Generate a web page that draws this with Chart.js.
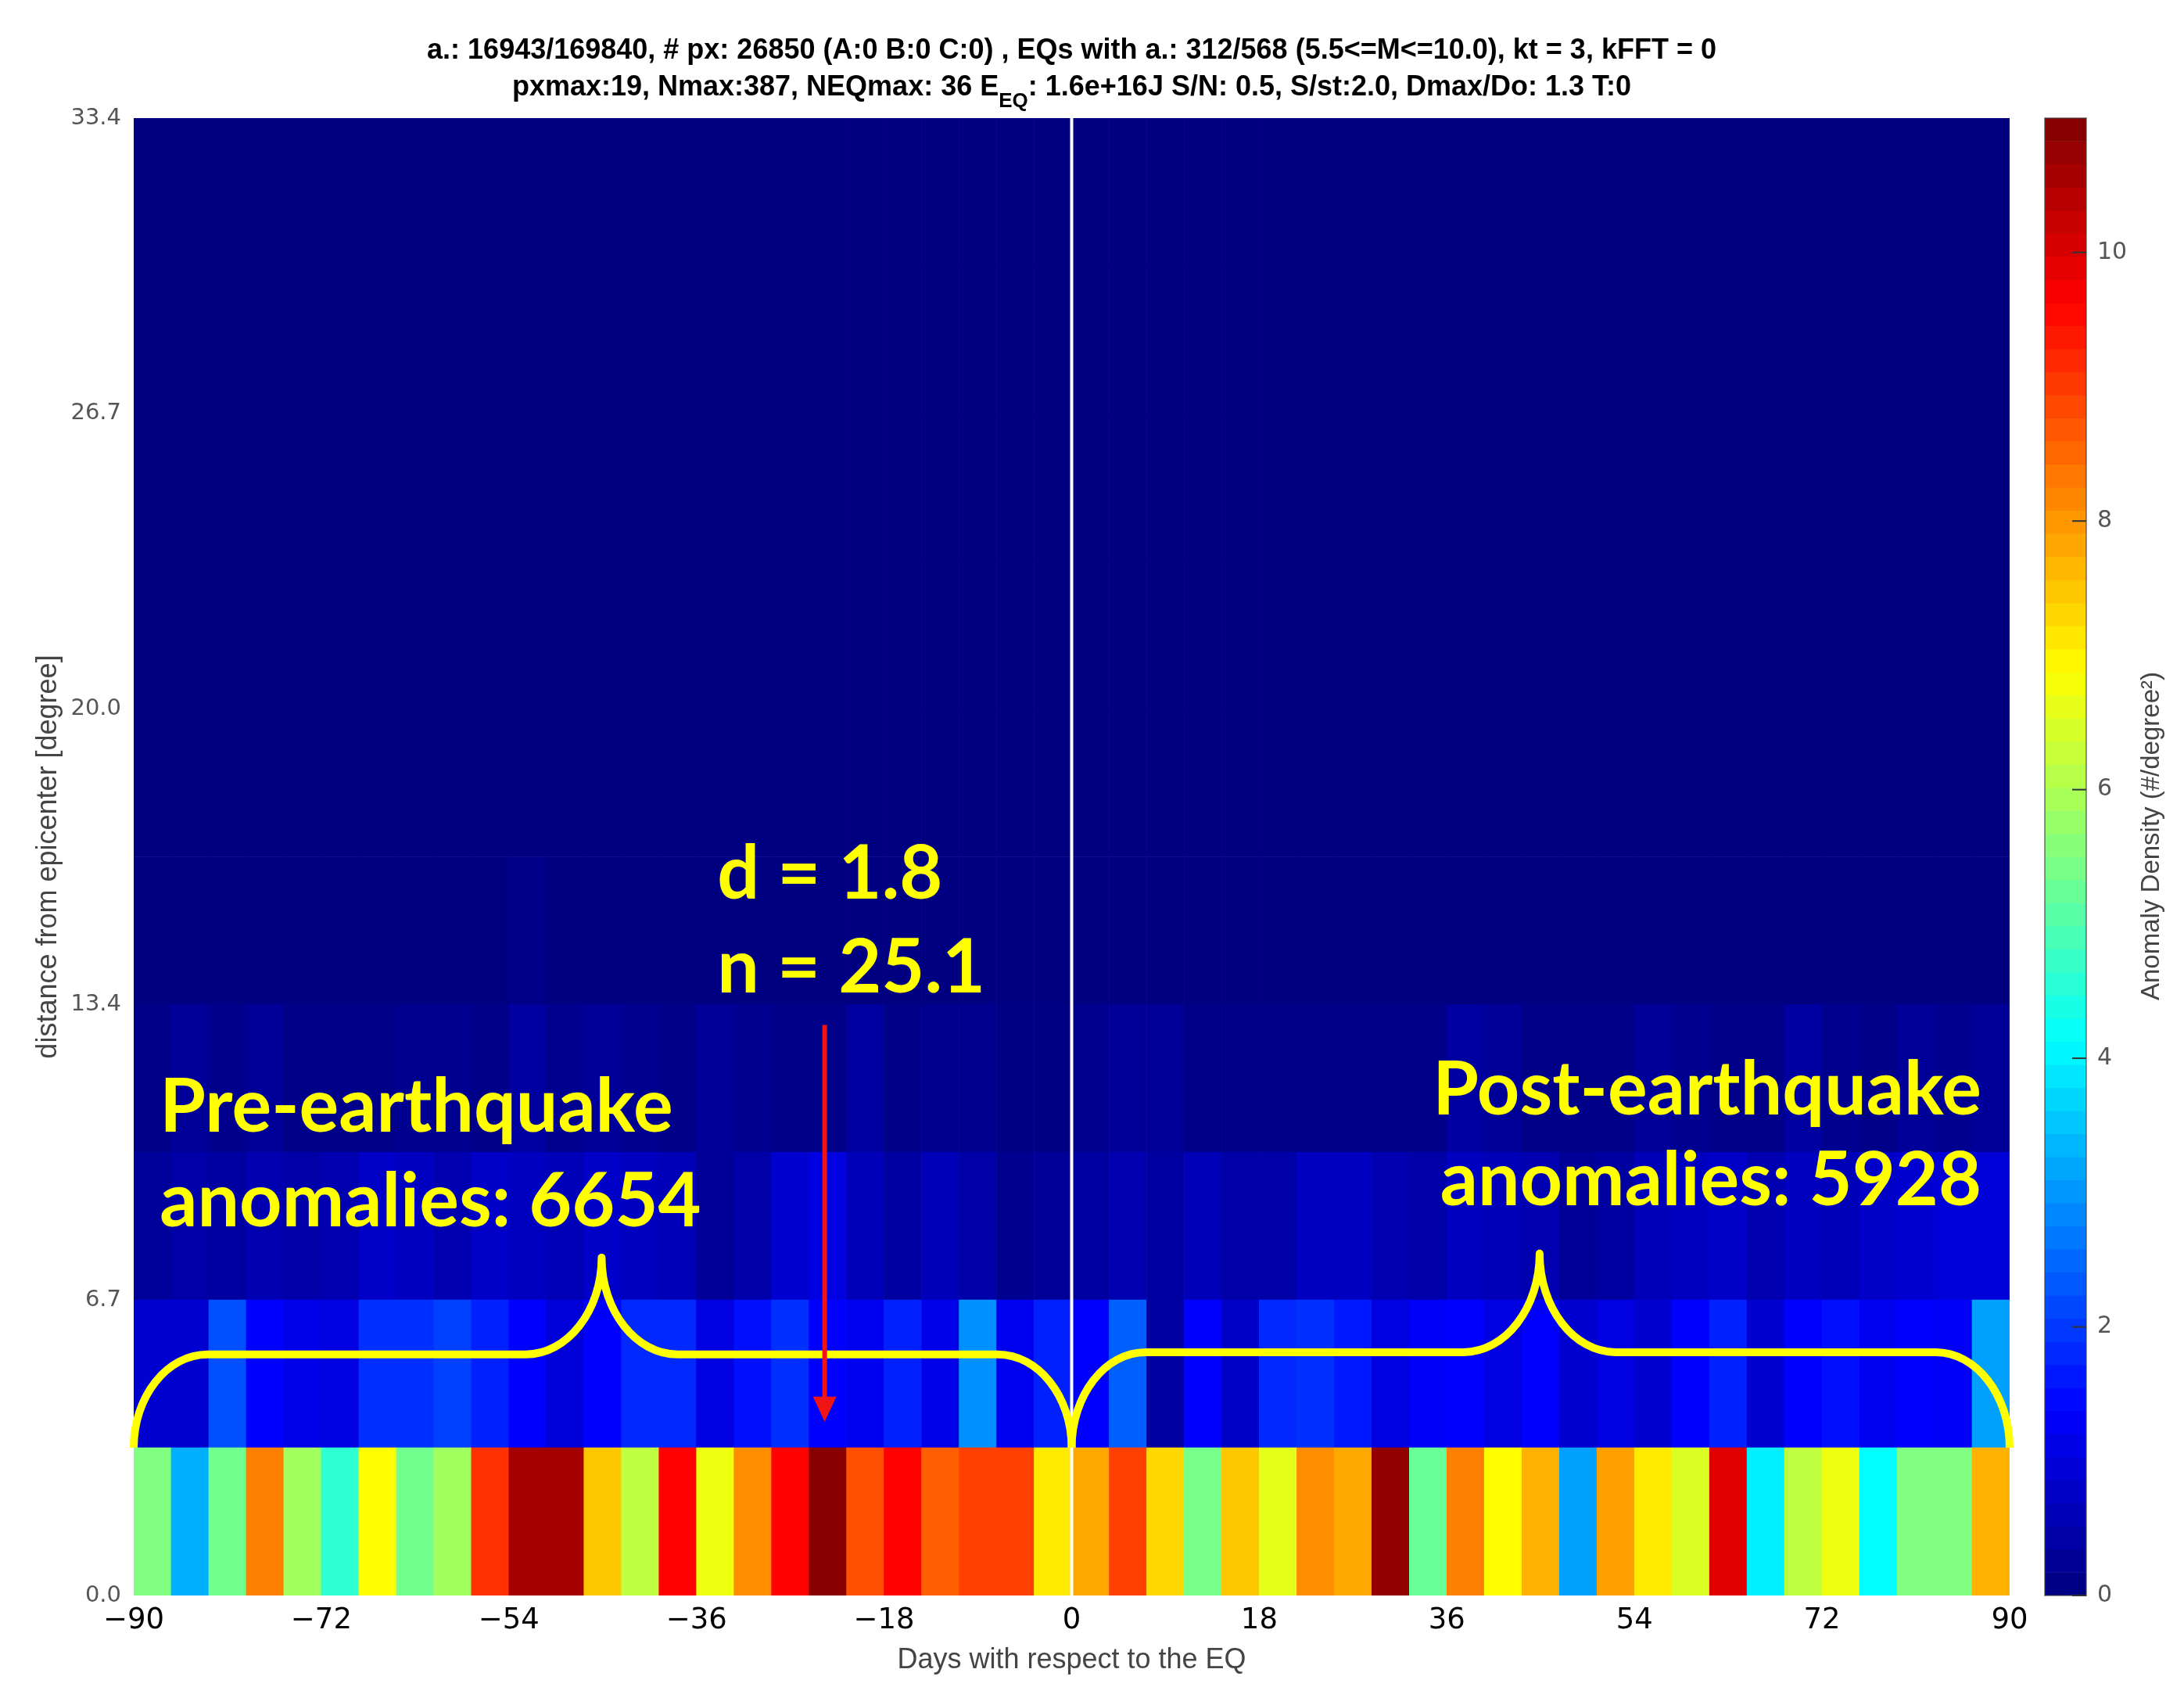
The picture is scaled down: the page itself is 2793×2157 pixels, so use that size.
<!DOCTYPE html>
<html>
<head>
<meta charset="utf-8">
<script src="https://cdn.jsdelivr.net/npm/chart.js@4.4.1/dist/chart.umd.min.js"></script>
<style>
  body { margin: 0; background: #fff; }
  #wrap { position: relative; width: 2793px; height: 2157px; }
  #heat { position: absolute; left: 0; top: 0; }
  #cbar { position: absolute; left: 2560px; top: 0; }
</style>
</head>
<body>
<div id="wrap">
  <canvas id="heat" width="2793" height="2157"></canvas>
  <canvas id="cbar" width="233" height="2157"></canvas>
</div>
<script>
// day bins (centres, 3.6 days wide) and distance bin edges in degree
const dayBins = [-88.2, -84.6, -81.0, -77.4, -73.8, -70.2, -66.6, -63.0, -59.4, -55.8,
  -52.2, -48.6, -45.0, -41.4, -37.8, -34.2, -30.6, -27.0, -23.4, -19.8,
  -16.2, -12.6, -9.0, -5.4, -1.8, 1.8, 5.4, 9.0, 12.6, 16.2,
  19.8, 23.4, 27.0, 30.6, 34.2, 37.8, 41.4, 45.0, 48.6, 52.2,
  55.8, 59.4, 63.0, 66.6, 70.2, 73.8, 77.4, 81.0, 84.6, 88.2];
const distEdges = [0, 3.34, 6.68, 10.02, 13.36, 16.7, 20.04, 23.38, 26.72, 30.06, 33.4];

// anomaly density per row, bottom row first
const density0 = [5.5, 3.27, 5.34, 8.25, 5.86, 4.6, 6.9, 5.34, 5.86, 9.1,
  10.6, 10.6, 7.48, 6.19, 9.6, 6.7, 8.1, 9.6, 10.9, 8.77,
  9.6, 8.6, 8.94, 8.94, 7.1, 7.8, 8.94, 7.3, 5.4, 7.48,
  6.6, 8.1, 7.8, 10.8, 5.25, 8.25, 6.9, 7.7, 3.1, 7.9,
  7.1, 6.5, 9.95, 3.96, 6.19, 6.7, 4.1, 5.5, 5.5, 7.7];
const density1 = [0.87, 0.87, 2.24, 1.375, 1.13, 1.04, 1.89, 1.89, 2.06, 1.72,
  1.375, 0.95, 1.375, 1.81, 1.81, 1.04, 1.55, 1.89, 1.375, 1.21,
  1.72, 1.13, 2.93, 1.21, 1.72, 1.375, 2.41, 0.35, 1.375, 0.78,
  1.81, 1.89, 1.63, 1.04, 1.30, 1.375, 1.04, 1.375, 0.87, 1.04,
  0.87, 1.375, 1.72, 0.87, 1.375, 1.55, 1.21, 1.375, 1.30, 3.1];
const density2 = [0.29, 0.44, 0.35, 0.52, 0.44, 0.52, 0.78, 0.70, 0.52, 0.78,
  0.70, 0.61, 0.78, 0.70, 0.61, 0.26, 0.44, 0.87, 1.04, 0.61,
  0.35, 0.61, 0.44, 0.18, 0.26, 0.35, 0.52, 0.35, 0.61, 0.44,
  0.44, 0.70, 0.70, 0.52, 0.44, 0.70, 0.61, 0.52, 0.26, 0.35,
  0.61, 0.70, 0.78, 0.52, 0.70, 0.61, 0.78, 0.87, 0.95, 0.95];
const density3 = [0.09, 0.26, 0.13, 0.26, 0.09, 0.09, 0.09, 0.18, 0.18, 0.09,
  0.35, 0.18, 0.26, 0.18, 0.09, 0.26, 0.18, 0.09, 0.09, 0.35,
  0.09, 0.18, 0.18, 0.06, 0.06, 0.18, 0.26, 0.26, 0.09, 0.09,
  0.09, 0.09, 0.09, 0.09, 0.09, 0.35, 0.26, 0.09, 0.09, 0.09,
  0.26, 0.18, 0.09, 0.09, 0.35, 0.18, 0.09, 0.26, 0.18, 0.26];
const density4 = [0, 0, 0, 0, 0, 0, 0, 0, 0, 0,
  0.1, 0, 0, 0, 0, 0, 0, 0, 0, 0,
  0, 0, 0, 0, 0, 0, 0, 0, 0, 0,
  0, 0, 0, 0, 0, 0, 0, 0, 0, 0,
  0, 0, 0, 0, 0, 0, 0, 0, 0, 0];
const densityUpper = [0, 0, 0, 0, 0, 0, 0, 0, 0, 0,
  0, 0, 0, 0, 0, 0, 0, 0, 0, 0,
  0, 0, 0, 0, 0, 0, 0, 0, 0, 0,
  0, 0, 0, 0, 0, 0, 0, 0, 0, 0,
  0, 0, 0, 0, 0, 0, 0, 0, 0, 0];

const xTickValues = [-90, -72, -54, -36, -18, 0, 18, 36, 54, 72, 90];
const yTickValues = [0, 6.68, 13.36, 20.04, 26.72, 33.4];
const yTickLabels = ['0.0', '6.7', '13.4', '20.0', '26.7', '33.4'];
const cbarTicks = [0, 2, 4, 6, 8, 10];
const cMax = 11;

const titleLine1 = 'a.: 16943/169840, # px: 26850 (A:0 B:0 C:0) , EQs with a.: 312/568 (5.5<=M<=10.0), kt = 3, kFFT = 0';
const titleLine2a = 'pxmax:19, Nmax:387, NEQmax: 36 E';
const titleLine2b = ': 1.6e+16J S/N: 0.5, S/st:2.0, Dmax/Do: 1.3 T:0';

// annotations (data units)
const braces = [
  { x0: -90, x1: 0, xc: -45.1, yBase: 3.34, yFlat: 5.45, yTip: 7.64, corner: 7.1, inner: 7.3 },
  { x0: 0, x1: 90, xc: 44.9, yBase: 3.34, yFlat: 5.5, yTip: 7.73, corner: 7.1, inner: 7.3 }
];
const arrow = { x: -23.7, yFrom: 12.9, yTo: 3.93 };
const notes = [
  { text: 'd = 1.8', x: -34.0, y: 15.75, align: 'left' },
  { text: 'n = 25.1', x: -34.0, y: 13.64, align: 'left' },
  { text: 'Pre-earthquake', x: -87.5, y: 10.49, align: 'left' },
  { text: 'anomalies: 6654', x: -87.5, y: 8.35, align: 'left' },
  { text: 'Post-earthquake', x: 87.3, y: 10.87, align: 'right' },
  { text: 'anomalies: 5928', x: 87.3, y: 8.82, align: 'right' }
];

function jet(v) {
  const t = Math.min(Math.max(v / cMax, 0), 1);
  const c = k => Math.round(255 * Math.min(Math.max(1.5 - Math.abs(4 * t - k), 0), 1));
  return 'rgb(' + c(3) + ',' + c(2) + ',' + c(1) + ')';
}

function drawBrace(ctx, px, py, b) {
  const X0 = px(b.x0), X1 = px(b.x1), XC = px(b.xc);
  const YB = py(b.yBase), YF = py(b.yFlat), YT = py(b.yTip);
  const cw = px(b.x0 + b.corner) - X0;
  const iw = XC - px(b.xc - b.inner);
  ctx.beginPath();
  ctx.moveTo(X0, YB);
  ctx.bezierCurveTo(X0, YB - 0.55 * (YB - YF), X0 + 0.45 * cw, YF, X0 + cw, YF);
  ctx.lineTo(XC - iw, YF);
  ctx.bezierCurveTo(XC - 0.45 * iw, YF, XC, YF - 0.45 * (YF - YT), XC, YT);
  ctx.bezierCurveTo(XC, YF - 0.45 * (YF - YT), XC + 0.45 * iw, YF, XC + iw, YF);
  ctx.lineTo(X1 - cw, YF);
  ctx.bezierCurveTo(X1 - 0.45 * cw, YF, X1, YB - 0.55 * (YB - YF), X1, YB);
  ctx.stroke();
}

const overlay = {
  id: 'overlay',
  afterDatasetsDraw(chart) {
    const { ctx, chartArea: a, scales: { x, y } } = chart;
    const px = v => x.getPixelForValue(v), py = v => y.getPixelForValue(v);
    ctx.save();
    ctx.strokeStyle = '#ffffff';
    ctx.lineWidth = 4;
    ctx.beginPath();
    ctx.moveTo(px(0), a.top);
    ctx.lineTo(px(0), a.bottom);
    ctx.stroke();

    ctx.strokeStyle = '#ffff00';
    ctx.lineWidth = 10;
    ctx.lineJoin = 'round';
    braces.forEach(b => drawBrace(ctx, px, py, b));

    // red arrow
    const ax = px(arrow.x), ay0 = py(arrow.yFrom), ay1 = py(arrow.yTo);
    ctx.strokeStyle = '#f01414';
    ctx.fillStyle = '#f01414';
    ctx.lineWidth = 6;
    ctx.beginPath();
    ctx.moveTo(ax, ay0);
    ctx.lineTo(ax, ay1 - 28);
    ctx.stroke();
    ctx.beginPath();
    ctx.moveTo(ax - 15, ay1 - 32);
    ctx.lineTo(ax + 15, ay1 - 32);
    ctx.lineTo(ax, ay1);
    ctx.closePath();
    ctx.fill();

    ctx.fillStyle = '#ffff00';
    ctx.font = 'bold 95px Lato';
    ctx.textBaseline = 'alphabetic';
    notes.forEach(n => {
      ctx.textAlign = n.align;
      ctx.fillText(n.text, px(n.x), py(n.y));
    });
    ctx.restore();
  }
};

const header = {
  id: 'header',
  afterDraw(chart) {
    const { ctx, chartArea: a } = chart;
    const cx = (a.left + a.right) / 2;
    const big = 'bold 36px "Liberation Sans"', small = 'bold 26px "Liberation Sans"';
    ctx.save();
    ctx.fillStyle = '#000';
    ctx.textBaseline = 'alphabetic';
    ctx.font = big;
    ctx.textAlign = 'center';
    ctx.fillText(titleLine1, cx, 75);
    const parts = [[titleLine2a, big, 0], ['EQ', small, 15], [titleLine2b, big, 0]];
    let w = 0;
    parts.forEach(p => { ctx.font = p[1]; w += ctx.measureText(p[0]).width; });
    let xx = cx - w / 2;
    ctx.textAlign = 'left';
    parts.forEach(p => {
      ctx.font = p[1];
      ctx.fillText(p[0], xx, 122 + p[2]);
      xx += ctx.measureText(p[0]).width;
    });
    ctx.restore();
  }
};

const rows = [density0, density1, density2, density3, density4,
  densityUpper, densityUpper, densityUpper, densityUpper, densityUpper];
const heatSets = rows.map((vals, r) => ({
  data: dayBins.map(d => ({ x: d, y: [distEdges[r], distEdges[r + 1]] })),
  backgroundColor: vals.map(jet),
  borderWidth: 0,
  grouped: false,
  barPercentage: 1,
  categoryPercentage: 1
}));

new Chart(document.getElementById('heat'), {
  type: 'bar',
  data: { datasets: heatSets },
  options: {
    responsive: false,
    animation: false,
    events: [],
    devicePixelRatio: 1,
    layout: { padding: { top: 151, right: 223, left: 0, bottom: 0 } },
    plugins: { legend: { display: false }, tooltip: { enabled: false } },
    scales: {
      x: {
        type: 'linear', min: -90, max: 90, offset: false,
        afterBuildTicks: s => { s.ticks = xTickValues.map(v => ({ value: v })); },
        afterFit: s => { s.height = 117; },
        grid: { display: false, drawTicks: false, offset: false },
        border: { display: false },
        ticks: {
          autoSkip: false, maxRotation: 0, padding: 10, color: '#000',
          font: { family: 'DejaVu Sans', size: 37 },
          callback: v => String(v).replace('-', '\u2212')
        },
        title: {
          display: true, text: 'Days with respect to the EQ', color: '#444',
          font: { family: 'Liberation Sans', size: 36 }, padding: { top: 0, bottom: 12 }
        }
      },
      y: {
        type: 'linear', min: 0, max: 33.4,
        afterBuildTicks: s => { s.ticks = yTickValues.map(v => ({ value: v })); },
        afterFit: s => { s.width = 171; },
        grid: { display: false, drawTicks: false },
        border: { display: false },
        ticks: {
          padding: 16, color: '#555',
          font: { family: 'DejaVu Sans', size: 29 },
          callback: (v, i) => yTickLabels[i]
        },
        title: {
          display: true, text: 'distance from epicenter [degree]', color: '#444',
          font: { family: 'Liberation Sans', size: 36 }, padding: { top: 40, bottom: 0 }
        }
      }
    }
  },
  plugins: [overlay, header]
});

// colour bar
const bandCount = 64;
const cbarData = [], cbarColors = [];
for (let k = 0; k < bandCount; k++) {
  cbarData.push({ x: 'cb', y: [k * cMax / bandCount, (k + 1) * cMax / bandCount] });
  cbarColors.push(jet((k + 0.5) * cMax / bandCount));
}

const cbarDeco = {
  id: 'cbarDeco',
  afterDatasetsDraw(chart) {
    const { ctx, chartArea: a, scales: { y } } = chart;
    ctx.save();
    ctx.strokeStyle = 'rgba(60,60,60,0.55)';
    ctx.lineWidth = 2;
    ctx.strokeRect(a.left, a.top, a.right - a.left, a.bottom - a.top);
    ctx.strokeStyle = '#333';
    cbarTicks.forEach(t => {
      const yy = y.getPixelForValue(t);
      ctx.beginPath();
      ctx.moveTo(a.right - 18, yy);
      ctx.lineTo(a.right, yy);
      ctx.stroke();
    });
    ctx.translate(192, 1069);
    ctx.rotate(-Math.PI / 2);
    ctx.fillStyle = '#444';
    ctx.font = '33px "Liberation Sans"';
    ctx.textAlign = 'center';
    ctx.textBaseline = 'middle';
    ctx.fillText('Anomaly Density (#/degree\u00b2)', 0, 0);
    ctx.restore();
  }
};

new Chart(document.getElementById('cbar'), {
  type: 'bar',
  data: {
    labels: ['cb'],
    datasets: [{
      data: cbarData, backgroundColor: cbarColors, borderWidth: 0,
      barPercentage: 1, categoryPercentage: 1
    }]
  },
  options: {
    responsive: false,
    animation: false,
    events: [],
    devicePixelRatio: 1,
    layout: { padding: { top: 151, bottom: 117, left: 55, right: 0 } },
    plugins: { legend: { display: false }, tooltip: { enabled: false } },
    scales: {
      x: { display: false },
      y: {
        position: 'right', min: 0, max: cMax,
        afterBuildTicks: s => { s.ticks = cbarTicks.map(v => ({ value: v })); },
        afterFit: s => { s.width = 125; },
        grid: { display: false, drawTicks: false },
        border: { display: false },
        ticks: { padding: 14, color: '#555', font: { family: 'DejaVu Sans', size: 30 } }
      }
    }
  },
  plugins: [cbarDeco]
});
</script>
</body>
</html>
